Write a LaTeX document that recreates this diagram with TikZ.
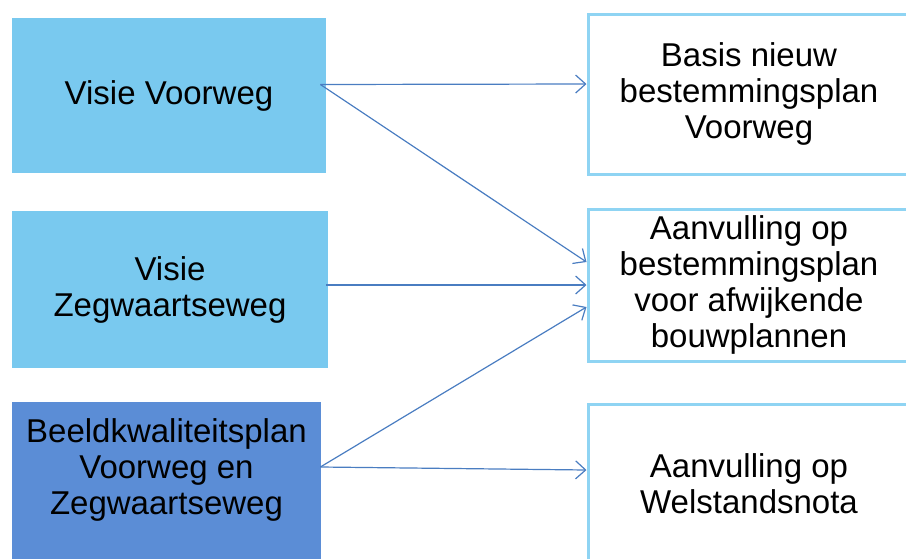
\documentclass[tikz,border=0pt]{standalone}
\usepackage{fontspec}
\setmainfont{Liberation Sans}
\usepackage{tikz}
\usetikzlibrary{arrows.meta}
\usepackage{xcolor}
\definecolor{lightsky}{HTML}{79C9EF}
\definecolor{darksky}{HTML}{5B8DD6}
\definecolor{skyline}{HTML}{8FD4F3}
\definecolor{arrowblue}{HTML}{4A7DC1}
\tikzset{
	srcblock/.style={
		rectangle,
		align=center,
		fill=lightsky,
		inner sep=0pt,
		font=\fontsize{16.5}{18}\selectfont
	},
	darkblock/.style={
		srcblock,
		fill=darksky
	},
	resblock/.style={
		rectangle,
		align=center,
		draw=skyline,
		line width=1.5pt,
		fill=white,
		inner sep=0pt,
		font=\fontsize{16.5}{18}\selectfont
	},
	link/.style={
		draw=arrowblue,
		line width=0.6pt,
		-{Straight Barb[length=5pt,width=9pt]}
	}
}

\begin{document}
\begin{tikzpicture}[x=0.5pt,y=-0.5pt]
	\useasboundingbox (0,0) rectangle (906,558);
	\draw node[srcblock, minimum width=157pt, minimum height=77.5pt](VisieVoorweg) at (169,95.5){Visie Voorweg};
	\draw node[srcblock, minimum width=158pt, minimum height=78.5pt](VisieZegwaart) at (170,289.5){Visie\\ Zegwaartseweg};
	\draw node[darkblock, minimum width=154.5pt, minimum height=79pt, text depth=14.5pt](Beeldkwaliteit) at (166.5,481){Beeldkwaliteitsplan\\ Voorweg en\\ Zegwaartseweg};
	
	\draw node[resblock, minimum width=161pt, minimum height=80pt](BasisNieuw) at (749,94){Basis nieuw\\ bestemmingsplan\\ Voorweg};
	\draw node[resblock, minimum width=161pt, minimum height=76pt](AanvullingBp) at (749,285){Aanvulling op\\ bestemmingsplan\\ voor afwijkende\\ bouwplannen};
	\draw node[resblock, minimum width=161pt, minimum height=80pt](AanvullingWn) at (749,484){Aanvulling op\\ Welstandsnota};
	
	\draw [link] ([xshift=-3pt,yshift=5.5pt]VisieVoorweg.east) -- ([yshift=5pt]BasisNieuw.west);
	\draw [link] ([xshift=-3pt,yshift=5.5pt]VisieVoorweg.east) -- ([yshift=11.5pt]AanvullingBp.west);
	\draw [link] ([xshift=-1pt,yshift=2.25pt]VisieZegwaart.east) -- (AanvullingBp.west);
	\draw [link] ([xshift=-0.5pt,yshift=7pt]Beeldkwaliteit.east) -- ([yshift=-11pt]AanvullingBp.west);
	\draw [link] ([xshift=-0.5pt,yshift=7pt]Beeldkwaliteit.east) -- ([yshift=7pt]AanvullingWn.west);
\end{tikzpicture}
\end{document}
